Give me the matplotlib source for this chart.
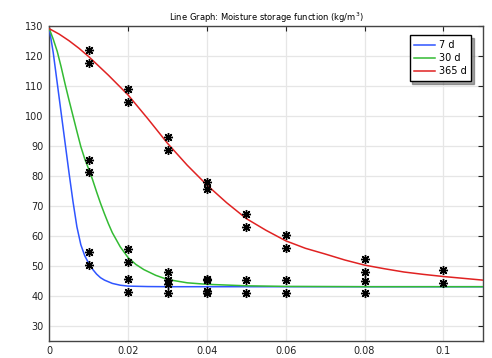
import matplotlib
matplotlib.use("Agg")
import matplotlib.pyplot as plt

# Model curves
x_7d = [0, 0.001, 0.002, 0.003, 0.004, 0.005, 0.006, 0.007, 0.008, 0.009, 0.010,
        0.011, 0.012, 0.013, 0.014, 0.016, 0.018, 0.020, 0.025, 0.030, 0.11]
y_7d = [129, 121, 111, 101, 91, 81, 71.5, 63, 57, 53.3, 50.8,
        48.8, 47.2, 46, 45.2, 44.1, 43.5, 43.2, 43.05, 43.0, 43.0]

x_30d = [0, 0.001, 0.002, 0.003, 0.004, 0.005, 0.006, 0.007, 0.008, 0.009, 0.010,
         0.011, 0.012, 0.013, 0.014, 0.015, 0.016, 0.018, 0.020, 0.022, 0.024,
         0.027, 0.030, 0.035, 0.040, 0.050, 0.060, 0.080, 0.11]
y_30d = [129, 125.5, 121.5, 116.3, 110.6, 105.2, 100, 94.8, 89.7, 85.6, 82.2,
         78.6, 74.6, 70.8, 67.3, 64, 61, 56.3, 52.7, 50.4, 48.7,
         46.8, 45.4, 44.3, 43.8, 43.3, 43.1, 43.0, 43.0]

x_365d = [0, 0.0025, 0.005, 0.0075, 0.010, 0.015, 0.020, 0.025, 0.030, 0.035, 0.040,
          0.045, 0.050, 0.055, 0.060, 0.065, 0.070, 0.075, 0.080, 0.085, 0.090,
          0.095, 0.100, 0.105, 0.110]
y_365d = [129, 127.2, 125, 122.5, 119.7, 113.5, 106.9, 99, 90.8, 83.5, 76.9,
          71, 65.7, 61.8, 58.3, 55.8, 53.9, 51.9, 50.2, 49, 47.9,
          47.1, 46.4, 45.8, 45.2]

# Measured points
meas_x = [0.01, 0.01, 0.01, 0.01, 0.01, 0.01,
          0.02, 0.02, 0.02, 0.02, 0.02, 0.02,
          0.03, 0.03, 0.03, 0.03, 0.03, 0.03,
          0.04, 0.04, 0.04, 0.04, 0.04, 0.04,
          0.05, 0.05, 0.05, 0.05,
          0.06, 0.06, 0.06, 0.06,
          0.08, 0.08, 0.08, 0.08,
          0.1, 0.1]
meas_y = [121.8, 117.6, 85.2, 81.1, 54.5, 50.2,
          108.8, 104.5, 55.5, 51.1, 45.6, 41.3,
          93.0, 88.7, 48.0, 45.2, 43.9, 40.8,
          78.0, 75.5, 45.7, 45.2, 41.5, 41.0,
          67.1, 62.8, 45.2, 40.8,
          60.1, 55.8, 45.2, 40.8,
          52.2, 48.0, 45.0, 41.0,
          48.5, 44.1]

labels = ["7 d", "30 d", "365 d"]
colors = ["#2f55ff", "#33bb33", "#e02222"]
x_ticks = [0, 0.02, 0.04, 0.06, 0.08, 0.1]
x_ticklabels = ["0", "0.02", "0.04", "0.06", "0.08", "0.1"]
y_ticks = [30, 40, 50, 60, 70, 80, 90, 100, 110, 120, 130]

fig = plt.figure(figsize=(4.92, 3.58), dpi=100)
ax = fig.add_axes([0.1002, 0.0483, 0.881, 0.8799])

for xs, ys, lab, col in zip([x_7d, x_30d, x_365d], [y_7d, y_30d, y_365d], labels, colors):
    ax.plot(xs, ys, color=col, lw=1.1, label=lab, zorder=3)

ax.plot(meas_x, meas_y, linestyle="none", marker=(8, 2, 0), markersize=6.5,
        markeredgewidth=1.0, color="black", zorder=4)

ax.set_xlim(0, 0.11)
ax.set_ylim(25, 130)
ax.set_xticks(x_ticks)
ax.set_xticklabels(x_ticklabels)
ax.set_yticks(y_ticks)
ax.grid(True, color="#e6e6e6", lw=0.9, zorder=0)
ax.set_axisbelow(True)

for s in ax.spines.values():
    s.set_color("#444444")
    s.set_linewidth(1.0)

ax.tick_params(axis="both", which="both", labelsize=7, colors="#222222", length=0, pad=4)
ax.tick_params(top=True, right=True, direction="in", length=3.5, width=0.8)
ax.tick_params(bottom=False, left=False)

ax.set_title("Line Graph: Moisture storage function (kg/m$^3$)", fontsize=6, pad=3.5)

leg = ax.legend(loc="upper right", bbox_to_anchor=(0.985, 0.985), fontsize=7,
                fancybox=False, shadow=True, framealpha=1, edgecolor="black",
                handlelength=2.1, handletextpad=0.4, borderpad=0.5, labelspacing=0.3)
leg.get_frame().set_linewidth(1.0)

fig.savefig("out.png", dpi=100)
